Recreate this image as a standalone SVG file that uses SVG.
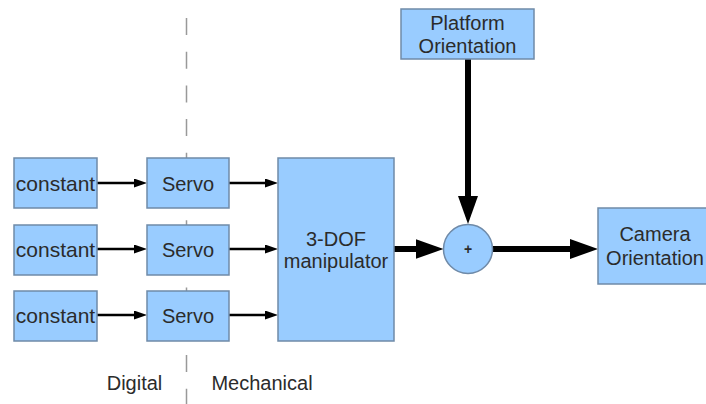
<svg xmlns="http://www.w3.org/2000/svg" width="706" height="404" viewBox="0 0 706 404">
<style>
.box{fill:#99ccff;stroke:#6f8aa8;stroke-width:1.5}
.t{font-family:"Liberation Sans",Arial,sans-serif;font-size:20px;fill:#2b2b2b;text-anchor:middle}
.c{font-size:21px}
.thin{stroke:#000;stroke-width:2.5;fill:none}
.thick{stroke:#000;stroke-width:6;fill:none}
.sep{stroke:#999;stroke-width:1.5;stroke-dasharray:17 16.7}
</style>
<defs>
<marker id="ah" markerUnits="userSpaceOnUse" markerWidth="13" markerHeight="9" refX="5" refY="4.5" orient="auto">
<path d="M0,0 L13,4.5 L0,9 z" fill="#000"/>
</marker>
<marker id="AH" markerUnits="userSpaceOnUse" markerWidth="28" markerHeight="20" refX="8" refY="10" orient="auto">
<path d="M0,0 L28,10 L0,20 z" fill="#000"/>
</marker>
</defs>
<rect width="706" height="404" fill="#fff"/>
<line class="sep" x1="186.5" y1="18" x2="186.5" y2="404"/>
<g id="connectors">
<line class="thin" x1="97" y1="183" x2="139" y2="183" marker-end="url(#ah)"/>
<line class="thin" x1="97" y1="249" x2="139" y2="249" marker-end="url(#ah)"/>
<line class="thin" x1="97" y1="315" x2="139" y2="315" marker-end="url(#ah)"/>
<line class="thin" x1="229" y1="183" x2="270" y2="183" marker-end="url(#ah)"/>
<line class="thin" x1="229" y1="249" x2="270" y2="249" marker-end="url(#ah)"/>
<line class="thin" x1="229" y1="315" x2="270" y2="315" marker-end="url(#ah)"/>
<line class="thick" x1="394" y1="249" x2="423.5" y2="249" marker-end="url(#AH)"/>
<line class="thick" x1="492.5" y1="249" x2="578" y2="249" marker-end="url(#AH)"/>
<line class="thick" x1="468" y1="59" x2="468" y2="204" marker-end="url(#AH)"/>
</g>
<g id="constant1"><rect class="box" x="14" y="158" width="83" height="50"/><text class="t c" x="55.5" y="190.5">constant</text></g>
<g id="constant2"><rect class="box" x="14" y="225" width="83" height="50"/><text class="t c" x="55.5" y="257">constant</text></g>
<g id="constant3"><rect class="box" x="14" y="291" width="83" height="50"/><text class="t c" x="55.5" y="323">constant</text></g>
<g id="servo1"><rect class="box" x="147" y="158" width="82" height="50"/><text class="t" x="188" y="190.5">Servo</text></g>
<g id="servo2"><rect class="box" x="147" y="225" width="82" height="50"/><text class="t" x="188" y="257">Servo</text></g>
<g id="servo3"><rect class="box" x="147" y="291" width="82" height="50"/><text class="t" x="188" y="323">Servo</text></g>
<g id="manipulator"><rect class="box" x="278" y="158" width="116" height="183"/><text class="t" x="336" y="246">3-DOF</text><text class="t" x="336" y="268">manipulator</text></g>
<g id="platform"><rect class="box" x="401" y="9" width="133" height="50"/><text class="t" x="467.5" y="30">Platform</text><text class="t" x="467.5" y="53">Orientation</text></g>
<g id="sum"><circle class="box" cx="468" cy="249" r="24.5"/><text class="t" x="468" y="254" style="font-size:14px;font-weight:bold">+</text></g>
<g id="camera"><rect class="box" x="598" y="208" width="112" height="76"/><text class="t" x="655" y="241">Camera</text><text class="t" x="655" y="265">Orientation</text></g>
<g id="labels"><text class="t" x="134.5" y="390">Digital</text><text class="t" x="262" y="390">Mechanical</text></g>
</svg>
